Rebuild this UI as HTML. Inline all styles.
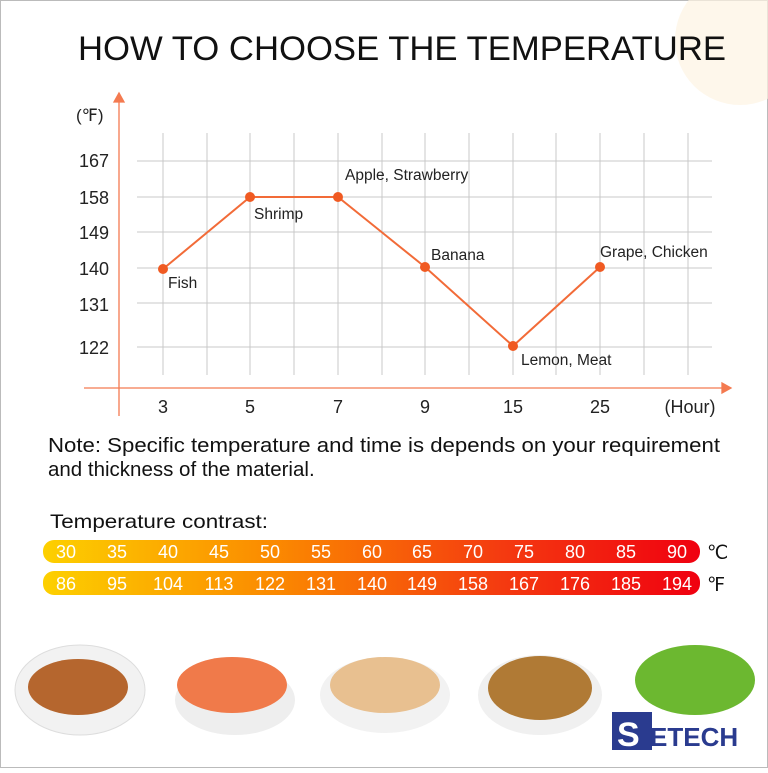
<!DOCTYPE html>
<html><head><style>
body{margin:0;width:768px;height:768px;overflow:hidden;background:#fff;font-family:"Liberation Sans",sans-serif;}
</style></head><body>
<svg width="768" height="768" viewBox="0 0 768 768" font-family="Liberation Sans, sans-serif">
<rect x="0.5" y="0.5" width="767" height="767" fill="#fff" stroke="#bbb"/>
<circle cx="740" cy="40" r="65" fill="#fdf3e2" opacity="0.7"/>
<text x="402" y="60" text-anchor="middle" font-size="34.5" fill="#111" textLength="648" lengthAdjust="spacingAndGlyphs">HOW TO CHOOSE THE TEMPERATURE</text>
<g stroke="#c8c8c8" stroke-width="1">
<line x1="163" y1="133" x2="163" y2="375"/><line x1="207" y1="133" x2="207" y2="375"/><line x1="250" y1="133" x2="250" y2="375"/><line x1="294" y1="133" x2="294" y2="375"/><line x1="338" y1="133" x2="338" y2="375"/><line x1="382" y1="133" x2="382" y2="375"/><line x1="425" y1="133" x2="425" y2="375"/><line x1="469" y1="133" x2="469" y2="375"/><line x1="513" y1="133" x2="513" y2="375"/><line x1="556" y1="133" x2="556" y2="375"/><line x1="600" y1="133" x2="600" y2="375"/><line x1="644" y1="133" x2="644" y2="375"/><line x1="688" y1="133" x2="688" y2="375"/>
<line x1="137" y1="161" x2="712" y2="161"/><line x1="137" y1="197" x2="712" y2="197"/><line x1="137" y1="232" x2="712" y2="232"/><line x1="137" y1="268" x2="712" y2="268"/><line x1="137" y1="303" x2="712" y2="303"/><line x1="137" y1="347" x2="712" y2="347"/>
</g>
<g stroke="#f47a50" stroke-width="1.3" fill="#f47a50">
<line x1="119" y1="100" x2="119" y2="416"/><polygon points="114,102 124,102 119,93"/>
<line x1="84" y1="388" x2="724" y2="388"/><polygon points="722,383 722,393 731,388"/>
</g>
<g font-size="18" fill="#222" text-anchor="end">
<text x="109" y="167">167</text><text x="109" y="204">158</text><text x="109" y="239">149</text><text x="109" y="275">140</text><text x="109" y="311">131</text><text x="109" y="354">122</text>
</g>
<text x="76" y="121" font-size="17" fill="#222">(℉)</text>
<g font-size="18" fill="#222" text-anchor="middle">
<text x="163" y="413">3</text><text x="250" y="413">5</text><text x="338" y="413">7</text><text x="425" y="413">9</text><text x="513" y="413">15</text><text x="600" y="413">25</text><text x="690" y="413">(Hour)</text>
</g>
<polyline points="163,269 250,197 338,197 425,267 513,346 600,267" fill="none" stroke="#f26b38" stroke-width="2"/>
<g fill="#f05a22"><circle cx="163" cy="269" r="5"/><circle cx="250" cy="197" r="5"/><circle cx="338" cy="197" r="5"/><circle cx="425" cy="267" r="5"/><circle cx="513" cy="346" r="5"/><circle cx="600" cy="267" r="5"/></g>
<g font-size="15.5" fill="#222">
<text x="168" y="288">Fish</text><text x="254" y="219">Shrimp</text><text x="345" y="180">Apple, Strawberry</text><text x="431" y="260">Banana</text><text x="521" y="365">Lemon, Meat</text><text x="600" y="257">Grape, Chicken</text>
</g>
<text x="48" y="452" font-size="20.5" fill="#111" textLength="672" lengthAdjust="spacingAndGlyphs">Note: Specific temperature and time is depends on your requirement</text>
<text x="48" y="476" font-size="20.5" fill="#111">and thickness of the material.</text>
<text x="50" y="528" font-size="19.5" fill="#111" textLength="218" lengthAdjust="spacingAndGlyphs">Temperature contrast:</text>
<defs><linearGradient id="g" x1="0" x2="1"><stop offset="0" stop-color="#fdd000"/><stop offset="0.35" stop-color="#fb8a00"/><stop offset="0.7" stop-color="#f43a10"/><stop offset="1" stop-color="#f00010"/></linearGradient></defs>
<rect x="43" y="540" width="657" height="23" rx="11" fill="url(#g)"/>
<rect x="43" y="571" width="657" height="24" rx="11" fill="url(#g)"/>
<g font-size="18" fill="#fff" text-anchor="middle">
<text x="66" y="558">30</text><text x="117" y="558">35</text><text x="168" y="558">40</text><text x="219" y="558">45</text><text x="270" y="558">50</text><text x="321" y="558">55</text><text x="372" y="558">60</text><text x="422" y="558">65</text><text x="473" y="558">70</text><text x="524" y="558">75</text><text x="575" y="558">80</text><text x="626" y="558">85</text><text x="677" y="558">90</text>
<text x="66" y="590">86</text><text x="117" y="590">95</text><text x="168" y="590">104</text><text x="219" y="590">113</text><text x="270" y="590">122</text><text x="321" y="590">131</text><text x="372" y="590">140</text><text x="422" y="590">149</text><text x="473" y="590">158</text><text x="524" y="590">167</text><text x="575" y="590">176</text><text x="626" y="590">185</text><text x="677" y="590">194</text>
</g>
<text x="707" y="559" font-size="19" fill="#111">℃</text><text x="707" y="591" font-size="19" fill="#111">℉</text>
<ellipse cx="80" cy="690" rx="65" ry="45" fill="#f2f2f2" stroke="#ddd"/><ellipse cx="78" cy="687" rx="50" ry="28" fill="#b5662e"/>
<ellipse cx="235" cy="700" rx="60" ry="35" fill="#eee"/><ellipse cx="232" cy="685" rx="55" ry="28" fill="#f07a4a"/>
<ellipse cx="385" cy="695" rx="65" ry="38" fill="#f2f2f2"/><ellipse cx="385" cy="685" rx="55" ry="28" fill="#e8c090"/>
<ellipse cx="540" cy="695" rx="62" ry="40" fill="#f0f0f0"/><ellipse cx="540" cy="688" rx="52" ry="32" fill="#b07a35"/>
<ellipse cx="695" cy="680" rx="60" ry="35" fill="#6cb830"/>
<rect x="612" y="712" width="40" height="38" fill="#2a3b8f"/>
<text x="617" y="746" font-size="34" font-weight="bold" fill="#fff">S</text>
<text x="650" y="746" font-size="26" font-weight="bold" fill="#2a3b8f">ETECH</text>
</svg>
</body></html>
